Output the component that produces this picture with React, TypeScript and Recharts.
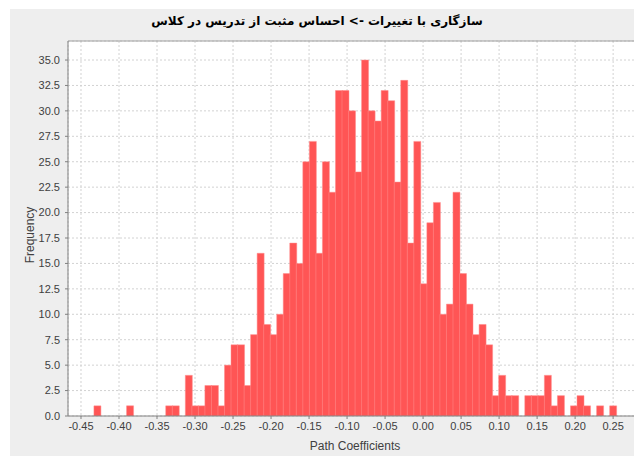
import React from 'react';
import { BarChart, Bar, XAxis, YAxis, CartesianGrid, ReferenceLine } from 'recharts';

// histogram bin centres (path coefficient) and their frequencies
const BIN_CENTERS = [
  -0.42871, -0.42012, -0.41153, -0.40295, -0.39436, -0.38577, -0.37718, -0.3686, -0.36001, -0.35142,
  -0.34283, -0.33425, -0.32566, -0.31707, -0.30848, -0.29989, -0.29131, -0.28272, -0.27413, -0.26554,
  -0.25695, -0.24837, -0.23978, -0.23119, -0.2226, -0.21401, -0.20543, -0.19684, -0.18825, -0.17966,
  -0.17107, -0.16249, -0.1539, -0.14531, -0.13672, -0.12813, -0.11955, -0.11096, -0.10237, -0.09378,
  -0.08519, -0.07661, -0.06802, -0.05943, -0.05084, -0.04225, -0.03367, -0.02508, -0.01649, -0.0079,
  0.00069, 0.00927, 0.01786, 0.02645, 0.03504, 0.04363, 0.05221, 0.0608, 0.06939, 0.07798,
  0.08657, 0.09515, 0.10374, 0.11233, 0.12092, 0.12951, 0.13809, 0.14668, 0.15527, 0.16386,
  0.17245, 0.18103, 0.18962, 0.19821, 0.2068, 0.21539, 0.22397, 0.23256, 0.24115, 0.24974,
];

const COUNTS = [
  1, 0, 0, 0, 0, 1, 0, 0, 0, 0,
  0, 1, 1, 0, 4, 1, 1, 3, 3, 1,
  5, 7, 7, 3, 8, 16, 9, 8, 10, 14,
  17, 15, 25, 27, 16, 25, 22, 32, 32, 30,
  24, 35, 30, 29, 32, 31, 23, 33, 17, 27,
  13, 19, 21, 10, 11, 22, 14, 11, 8, 9,
  7, 2, 4, 2, 2, 0, 2, 2, 2, 4,
  1, 2, 0, 1, 2, 1, 0, 1, 0, 1,
];

const X_TICKS = [-0.45, -0.4, -0.35, -0.3, -0.25, -0.2, -0.15, -0.1, -0.05, 0, 0.05, 0.1, 0.15, 0.2, 0.25];
const Y_TICKS = [0, 2.5, 5, 7.5, 10, 12.5, 15, 17.5, 20, 22.5, 25, 27.5, 30, 32.5, 35];
const X_DOMAIN = [-0.4671, 0.288];
const Y_MAX = 36.87;

const TITLE = 'سازگاری با تغییرات -> احساس مثبت از تدریس در کلاس';

const data = BIN_CENTERS.map((center, i) => ({ center, count: COUNTS[i] }));

const FONT = '"Liberation Sans", Arial, sans-serif';

const FrequencyLabel = () => (
  <text
    x={34}
    y={235}
    transform="rotate(-90, 34, 235)"
    textAnchor="middle"
    fontSize={12}
    fontFamily={FONT}
    fill="#404040"
  >
    Frequency
  </text>
);

export default function App() {
  return (
    <div
      style={{
        position: 'absolute',
        left: 0,
        top: 0,
        width: 634,
        height: 456,
        overflow: 'hidden',
        background: '#ffffff',
        fontFamily: FONT,
      }}
    >
      <div style={{ position: 'absolute', left: 10, top: 9, right: 0, bottom: 0, background: '#eeeeee' }} />
      <div
        dir="rtl"
        style={{
          position: 'absolute',
          left: 0,
          top: 14,
          width: 634,
          textAlign: 'center',
          fontFamily: '"DejaVu Sans", sans-serif',
          fontWeight: 'bold',
          fontSize: 12,
          color: '#000000',
        }}
      >
        {TITLE}
      </div>
      <div style={{ position: 'absolute', left: 0, top: 0 }}>
        <BarChart
          width={660}
          height={456}
          data={data}
          margin={{ top: 41, right: 18, bottom: 0, left: 0 }}
          barCategoryGap={0}
          barGap={0}
        >
          <CartesianGrid fill="#ffffff" stroke="#d2d2d2" strokeDasharray="2 2" />
          <XAxis
            dataKey="center"
            type="number"
            domain={X_DOMAIN}
            ticks={X_TICKS}
            allowDataOverflow
            interval={0}
            tickFormatter={(v: number) => v.toFixed(2)}
            tick={{ fontSize: 11, fill: '#404040', fontFamily: FONT }}
            tickSize={3}
            tickMargin={3}
            tickLine={{ stroke: '#808080' }}
            axisLine={{ stroke: '#808080' }}
            height={40}
            label={{
              value: 'Path Coefficients',
              position: 'insideBottom',
              offset: 6,
              fontSize: 12,
              fill: '#404040',
              fontFamily: FONT,
            }}
          />
          <YAxis
            type="number"
            domain={[0, Y_MAX]}
            ticks={Y_TICKS}
            allowDataOverflow
            interval={0}
            tickFormatter={(v: number) => v.toFixed(1)}
            tick={{ fontSize: 11, fill: '#404040', fontFamily: FONT }}
            tickSize={3}
            tickMargin={5}
            tickLine={{ stroke: '#808080' }}
            axisLine={{ stroke: '#808080' }}
            width={68}
            label={<FrequencyLabel />}
          />
          <ReferenceLine y={Y_MAX} stroke="#a0a0a0" />
          <Bar dataKey="count" fill="#ff5555" stroke="#ff8c8c" strokeWidth={0.5} isAnimationActive={false} />
        </BarChart>
      </div>
    </div>
  );
}
